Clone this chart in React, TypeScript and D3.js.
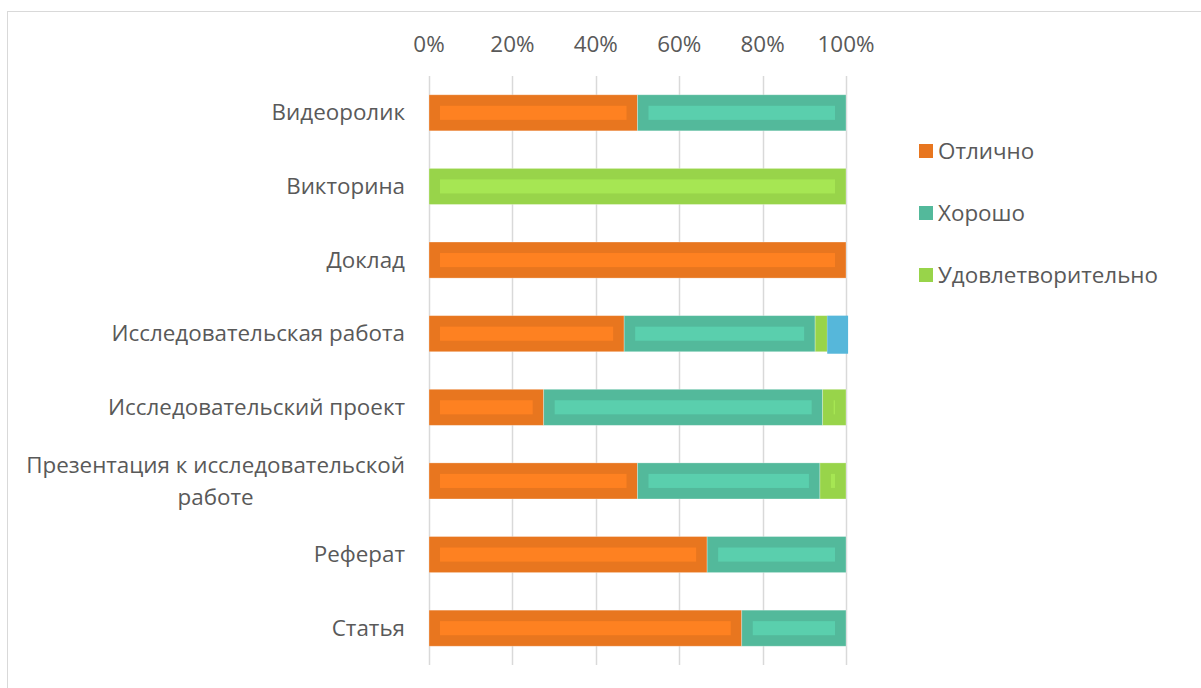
import { useEffect, useRef } from 'react';
import * as d3 from 'd3';

// categories top to bottom
const categories = [
  'Видеоролик',
  'Викторина',
  'Доклад',
  'Исследовательская работа',
  'Исследовательский проект',
  'Презентация к исследовательской работе',
  'Реферат',
  'Статья',
];

// shares per category (0..1)
const excellent = [0.5, 0, 1, 0.468, 0.275, 0.5, 0.667, 0.75];
const good = [0.5, 0, 0, 0.458, 0.669, 0.4375, 0.333, 0.25];
const satisfactory = [0, 1, 0, 0.029, 0.056, 0.0625, 0, 0];
const other = [0, 0, 0, 0.05, 0, 0, 0, 0];

const seriesNames = ['Отлично', 'Хорошо', 'Удовлетворительно', ''];
const legendNames = ['Отлично', 'Хорошо', 'Удовлетворительно'];
const tickValues = [0, 0.2, 0.4, 0.6, 0.8, 1];

const outerColors = ['#E8761F', '#53B99B', '#98D44A', '#56B7DA'];
const innerColors = ['#FE8121', '#5ACFAD', '#A6E653', '#56B7DA'];

const W = 1201;
const H = 688;
const FONT = '"Open Sans", "Noto Sans", sans-serif';
const FS = 22.4;
const TEXT = '#595959';

export default function App() {
  const svgRef = useRef<SVGSVGElement>(null);

  useEffect(() => {
    if (!svgRef.current) return;
    const svg = d3.select(svgRef.current);
    svg.selectAll('*').remove();

    const plot = { left: 429, right: 846, top: 76, bottom: 665 };
    const x = d3.scaleLinear([0, 1], [plot.left, plot.right]);
    const y = d3.scaleBand(categories, [plot.top, plot.bottom]).paddingInner(0.51).paddingOuter(0.255);

    // frame
    svg.append('rect').attr('x', 7.5).attr('y', 11.5).attr('width', W + 20).attr('height', H + 20)
      .attr('fill', '#fff').attr('stroke', '#d9d9d9').attr('stroke-width', 1);

    // grid
    svg.selectAll('.grid').data(tickValues).join('line')
      .attr('x1', d => Math.round(x(d)) + 0.5).attr('x2', d => Math.round(x(d)) + 0.5)
      .attr('y1', plot.top).attr('y2', plot.bottom)
      .attr('stroke', '#d9d9d9').attr('stroke-width', 1.5);

    // top axis labels
    svg.selectAll('.tick').data(tickValues).join('text')
      .attr('x', d => x(d)).attr('y', 52)
      .attr('text-anchor', 'middle').attr('fill', TEXT)
      .attr('font-family', FONT).attr('font-size', FS)
      .text(d => d3.format('.0%')(d));

    // stack
    const rows = categories.map((c, i) => ({ c, s0: excellent[i], s1: good[i], s2: satisfactory[i], s3: other[i] }));
    const stack = d3.stack<typeof rows[number]>().keys(['s0', 's1', 's2', 's3'])(rows);

    stack.forEach((layer, k) => {
      const g = svg.append('g').attr('class', 'series').attr('data-name', seriesNames[k]);
      layer.forEach(seg => {
        const w = x(seg[1]) - x(seg[0]);
        if (w <= 0) return;
        const y0 = y(seg.data.c)!;
        const bh = y.bandwidth();
        g.append('rect').attr('x', x(seg[0])).attr('y', y0).attr('width', w).attr('height', k === 3 ? bh + 2 : bh)
          .attr('fill', outerColors[k]).attr('stroke', k === 3 ? 'none' : 'rgba(255,255,255,0.35)').attr('stroke-width', 0.8);
        const inset = 11;
        if (k < 3 && w - 2 * inset > 1) {
          g.append('rect').attr('x', x(seg[0]) + inset).attr('y', y0 + inset)
            .attr('width', w - 2 * inset).attr('height', bh - 2 * inset)
            .attr('fill', innerColors[k]);
        }
      });
    });

    // category labels
    categories.forEach(c => {
      const cy = y(c)! + y.bandwidth() / 2;
      if (c.length > 30) {
        const words = c.split(' ');
        const l1 = words.slice(0, -1).join(' ');
        const l2 = words[words.length - 1];
        const t1 = svg.append('text').attr('x', 405).attr('y', cy - 8)
          .attr('text-anchor', 'end').attr('fill', TEXT)
          .attr('font-family', FONT).attr('font-size', FS).text(l1);
        const len = (t1.node() as SVGTextElement).getComputedTextLength();
        svg.append('text').attr('x', 405 - len / 2).attr('y', cy + 24.5)
          .attr('text-anchor', 'middle').attr('fill', TEXT)
          .attr('font-family', FONT).attr('font-size', FS).text(l2);
      } else {
        svg.append('text').attr('x', 405).attr('y', cy + 7.5)
          .attr('text-anchor', 'end').attr('fill', TEXT)
          .attr('font-family', FONT).attr('font-size', FS).text(c);
      }
    });

    // legend
    legendNames.forEach((name, i) => {
      const ly = 151 + i * 62;
      svg.append('rect').attr('x', 919).attr('y', ly - 7).attr('width', 14).attr('height', 14)
        .attr('fill', outerColors[i]);
      svg.append('text').attr('x', 938).attr('y', ly + 7.5)
        .attr('fill', TEXT).attr('font-family', FONT).attr('font-size', FS).text(name);
    });
  }, []);

  return (
    <svg ref={svgRef} width={W} height={H}
      style={{ position: 'absolute', left: 0, top: 0, background: '#fff' }} />
  );
}
